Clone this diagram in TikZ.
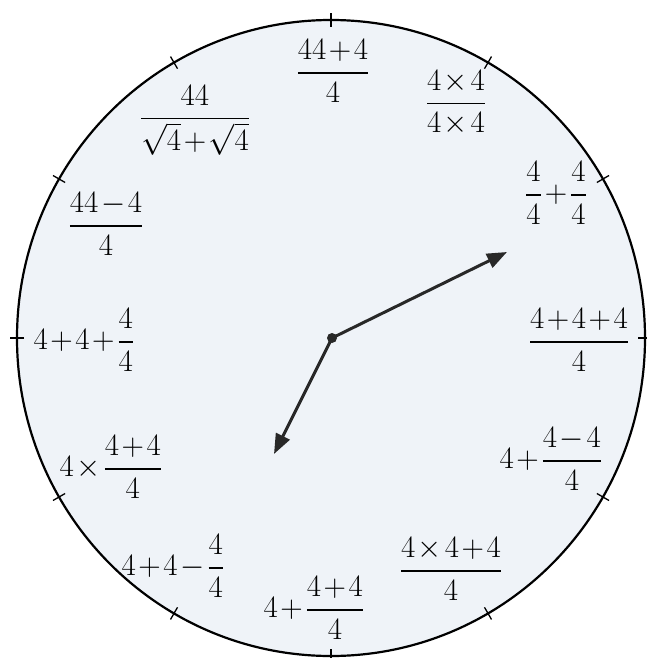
\documentclass[tikz,border=0pt]{standalone}
\usepackage{amsmath,amssymb}
\usepackage{xcolor}
\usepackage{tikz}
\usetikzlibrary{arrows.meta}
\definecolor{facefill}{RGB}{239,243,248}
\definecolor{handgray}{RGB}{40,40,40}
\medmuskip=1.5mu

\begin{document}
\begin{tikzpicture}[
    x=1pt, y=-1pt,
    lbl/.style={inner sep=0pt, font=\Huge, scale=1.25, transform shape},
    face/.style={draw=black, line width=2.2pt, fill=facefill},
    tickmark/.style={draw=black, line width=1.3pt},
    hand/.style={-{Triangle[length=20pt,width=15pt]}, line width=3pt, draw=handgray},
    hub/.style={circle, fill=handgray, inner sep=0pt, minimum size=10pt}
  ]
    \useasboundingbox (0,0) rectangle (646,658);
    \draw[face] (331,338) ellipse [x radius=314pt, y radius=318pt];
    \foreach \a in {0,30,...,330}
      \draw[tickmark] ({331+307*cos(\a)},{338-311*sin(\a)}) -- ({331+321*cos(\a)},{338-325*sin(\a)});

    \node[lbl] (hr12) at (333,71)  {$\displaystyle\frac{44+4}{4}$};
    \node[lbl] (hr1)  at (456,103) {$\displaystyle\frac{4\times4}{4\times4}$};
    \node[lbl] (hr2)  at (556,193) {$\displaystyle\frac{4}{4}+\frac{4}{4}$};
    \node[lbl] (hr3)  at (579,340) {$\displaystyle\frac{4+4+4}{4}$};
    \node[lbl] (hr4)  at (551,459) {$\displaystyle4+\frac{4-4}{4}$};
    \node[lbl] (hr5)  at (451,569) {$\displaystyle\frac{4\times4+4}{4}$};
    \node[lbl] (hr6)  at (314,608) {$\displaystyle4+\frac{4+4}{4}$};
    \node[lbl] (hr7)  at (173,566) {$\displaystyle4+4-\frac{4}{4}$};
    \node[lbl] (hr8)  at (111,467) {$\displaystyle4\times\frac{4+4}{4}$};
    \node[lbl] (hr9)  at (84,340)  {$\displaystyle4+4+\frac{4}{4}$};
    \node[lbl] (hr10) at (106,224) {$\displaystyle\frac{44-4}{4}$};
    \node[lbl] (hr11) at (195,120) {$\displaystyle\frac{44}{\sqrt{4}+\sqrt{4}}$};

    \coordinate (axle) at (332,338);
    \coordinate (mintip) at (507,252);
    \coordinate (hourtip) at (274,454);

    \draw[hand] (axle) -- (mintip);
    \draw[hand] (axle) -- (hourtip);
    \node[hub] (hubdot) at (axle) {};
  \end{tikzpicture}
\end{document}
